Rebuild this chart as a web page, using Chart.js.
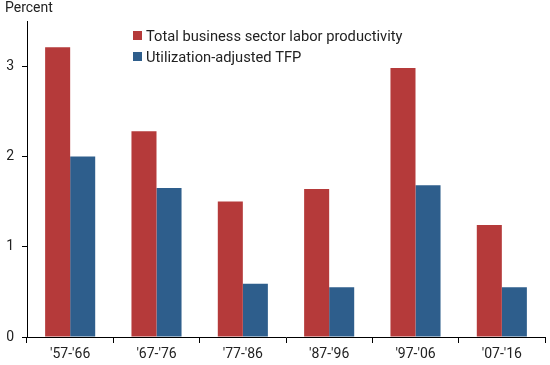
<!DOCTYPE html>
<html>
<head>
<meta charset="utf-8">
<script src="https://cdn.jsdelivr.net/npm/chart.js@4"></script>
<style>
  body { margin: 0; background: #fff; }
  #wrap { width: 550px; height: 365px; }
</style>
</head>
<body>
<div id="wrap"><canvas id="barChart" width="550" height="365"></canvas></div>
<script>
const periods = ["'57-'66", "'67-'76", "'77-'86", "'87-'96", "'97-'06", "'07-'16"];
const laborProductivity = [3.21, 2.28, 1.50, 1.64, 2.98, 1.24];
const utilizationTfp = [2.00, 1.65, 0.59, 0.55, 1.68, 0.55];
const yTicks = [0, 1, 2, 3];

const RED = '#b53a3a';
const BLUE = '#2e5e8c';
const FONT = 'Roboto, "Liberation Sans", sans-serif';

// "Percent" label and the legend inside the plot
const overlay = {
  id: 'overlay',
  afterDraw(chart) {
    const ctx = chart.ctx;
    ctx.save();
    ctx.fillStyle = '#222';
    ctx.textBaseline = 'alphabetic';
    ctx.textAlign = 'left';
    ctx.font = '14px ' + FONT;
    ctx.fillText('Percent', 5, 12);

    ctx.font = '14.7px ' + FONT;
    chart.data.datasets.forEach((ds, i) => {
      const y = 31 + i * 21;
      ctx.fillStyle = ds.backgroundColor;
      ctx.fillRect(133, y, 9, 9);
      ctx.fillStyle = '#222';
      ctx.fillText(ds.label, 146, y + 10);
    });
    ctx.restore();
  }
};

new Chart(document.getElementById('barChart'), {
  type: 'bar',
  data: {
    labels: periods,
    datasets: [
      { label: 'Total business sector labor productivity', data: laborProductivity, backgroundColor: RED },
      { label: 'Utilization-adjusted TFP', data: utilizationTfp, backgroundColor: BLUE }
    ]
  },
  options: {
    responsive: false,
    animation: false,
    layout: { padding: { top: 21, right: 5, left: 0, bottom: 0 } },
    plugins: { legend: { display: false }, tooltip: { enabled: false } },
    datasets: { bar: { categoryPercentage: 0.58, barPercentage: 1.0 } },
    scales: {
      x: {
        offset: true,
        grid: { offset: true, drawOnChartArea: false, drawTicks: true, tickLength: 6, color: '#000', lineWidth: 1 },
        border: { color: '#000', width: 1 },
        ticks: { color: '#222', font: { family: FONT, size: 14 }, padding: 3, maxRotation: 0 },
        afterFit(scale) { scale.height = 28; }
      },
      y: {
        min: 0,
        max: 3.5,
        afterBuildTicks(scale) { scale.ticks = yTicks.map(v => ({ value: v })); },
        grid: { drawOnChartArea: false, drawTicks: true, tickLength: 5, color: '#000', lineWidth: 1 },
        border: { color: '#000', width: 1 },
        ticks: { color: '#222', font: { family: FONT, size: 14 }, padding: 8 },
        afterFit(scale) { scale.width = 27; }
      }
    }
  },
  plugins: [overlay]
});
</script>
</body>
</html>
